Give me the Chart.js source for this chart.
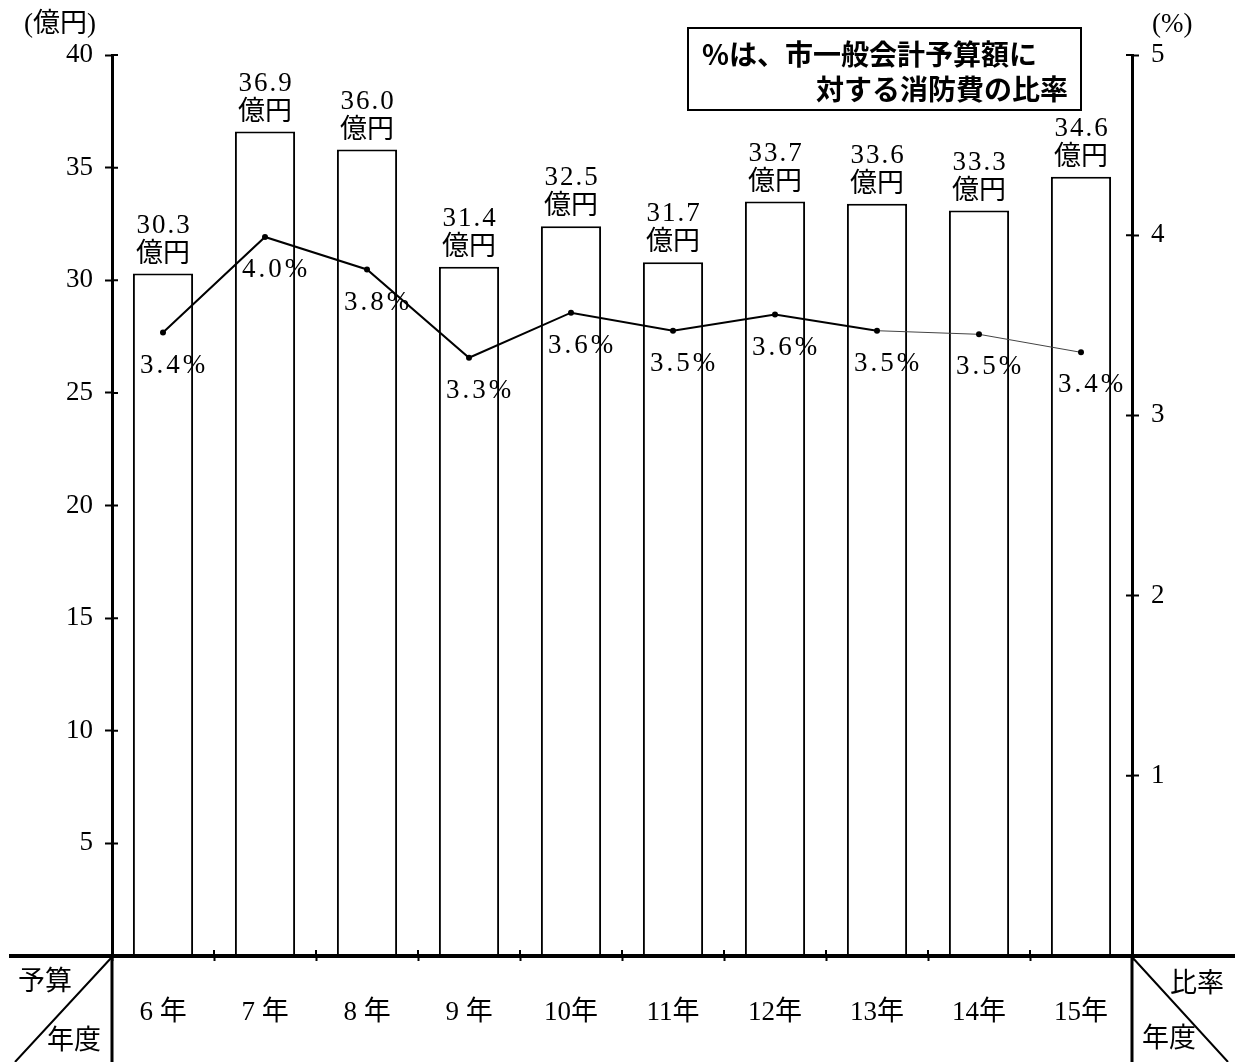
<!DOCTYPE html>
<html>
<head>
<meta charset="utf-8">
<script src="https://cdn.jsdelivr.net/npm/chart.js@4.4.0/dist/chart.umd.min.js"></script>
<style>
  html, body { margin: 0; padding: 0; background: #fff; }
  #wrap { width: 1235px; height: 1062px; }
</style>
</head>
<body>
<div id="wrap"><canvas id="fireChart" width="1235" height="1062"></canvas></div>
<script>
// data
const years = ['6 年', '7 年', '8 年', '9 年', '10年', '11年', '12年', '13年', '14年', '15年'];
const budget = [30.3, 36.6, 35.8, 30.6, 32.4, 30.8, 33.5, 33.4, 33.1, 34.6];
const budgetLabels = ['30.3', '36.9', '36.0', '31.4', '32.5', '31.7', '33.7', '33.6', '33.3', '34.6'];
const ratio = [3.46, 3.99, 3.81, 3.32, 3.57, 3.47, 3.56, 3.47, 3.45, 3.35];
const ratioLabels = ['3.4%', '4.0%', '3.8%', '3.3%', '3.6%', '3.5%', '3.6%', '3.5%', '3.5%', '3.4%'];
const leftTicks = [5, 10, 15, 20, 25, 30, 35, 40];
const rightTicks = [1, 2, 3, 4, 5];

const SERIF = '"Liberation Serif", "Noto Sans CJK JP", serif';
const GOTHIC = '"Noto Sans CJK JP", sans-serif';
const tickFont = { family: SERIF, size: 27, lineHeight: 1 };

// extra drawing: value labels, table lines below the axis, note box
const decorPlugin = {
    id: 'decor',
    afterDraw(chart) {
        const { ctx, chartArea: area, scales } = chart;
        const x = scales.x, y = scales.y, y1 = scales.y1;
        ctx.save();
        ctx.strokeStyle = '#000';
        ctx.fillStyle = '#000';

        // inner half of the tick marks
        ctx.lineWidth = 2;
        ctx.beginPath();
        leftTicks.forEach(v => {
            const py = y.getPixelForValue(v);
            ctx.moveTo(area.left, py); ctx.lineTo(area.left + 6, py);
        });
        rightTicks.forEach(v => {
            const py = y1.getPixelForValue(v);
            ctx.moveTo(area.right, py); ctx.lineTo(area.right - 6, py);
        });
        const step = x.getPixelForValue(1) - x.getPixelForValue(0);
        for (let i = 1; i < years.length; i++) {
            const px = x.getPixelForValue(i) - step / 2;
            ctx.moveTo(px, area.bottom); ctx.lineTo(px, area.bottom - 6);
        }
        ctx.stroke();

        // base line across the whole width and the table lines
        ctx.lineWidth = 4;
        ctx.beginPath();
        ctx.moveTo(9, area.bottom); ctx.lineTo(chart.width, area.bottom);
        ctx.stroke();
        ctx.lineWidth = 3;
        ctx.beginPath();
        ctx.moveTo(area.left, area.bottom); ctx.lineTo(area.left, chart.height);
        ctx.moveTo(area.right, area.bottom); ctx.lineTo(area.right, chart.height);
        ctx.stroke();
        ctx.lineWidth = 2;
        ctx.beginPath();
        ctx.moveTo(area.left, area.bottom + 1); ctx.lineTo(15, chart.height);
        ctx.moveTo(area.right, area.bottom + 1); ctx.lineTo(1228, chart.height);
        ctx.stroke();

        ctx.font = '27px ' + SERIF;
        ctx.textBaseline = 'middle';
        ctx.textAlign = 'left';
        ctx.fillText('予算', 18, 983);
        ctx.fillText('年度', 47, 1042);
        ctx.fillText('比率', 1170, 985);
        ctx.fillText('年度', 1142, 1040);
        ctx.fillText('(億円)', 24, 25);
        ctx.fillText('(%)', 1152, 25);

        // budget labels above the bars
        ctx.textAlign = 'center';
        chart.getDatasetMeta(1).data.forEach((bar, i) => {
            ctx.letterSpacing = '2px';
            ctx.fillText(budgetLabels[i], bar.x + 1, bar.y - 48);
            ctx.letterSpacing = '0px';
            ctx.fillText('億円', bar.x, bar.y - 19);
        });
        // ratio labels under the points
        ctx.letterSpacing = '3px';
        chart.getDatasetMeta(0).data.forEach((pt, i) => {
            ctx.fillText(ratioLabels[i], pt.x + 11, pt.y + 33);
        });
        ctx.letterSpacing = '0px';

        // note box
        ctx.lineWidth = 2;
        ctx.strokeRect(688, 28, 393, 82);
        ctx.font = 'bold 28px ' + GOTHIC;
        ctx.textAlign = 'left';
        ctx.fillText('%は、市一般会計予算額に', 702, 54);
        ctx.textAlign = 'right';
        ctx.fillText('対する消防費の比率', 1068, 89);

        ctx.restore();
    }
};

new Chart(document.getElementById('fireChart'), {
    data: {
        labels: years,
        datasets: [{
            type: 'line',
            label: '比率',
            data: ratio,
            yAxisID: 'y1',
            order: 0,
            borderColor: '#000',
            borderWidth: 2,
            tension: 0,
            pointRadius: 3,
            pointBackgroundColor: '#000',
            pointBorderWidth: 0,
            segment: {
                borderWidth: c => c.p0DataIndex >= 7 ? 1 : 2,
                borderColor: c => c.p0DataIndex >= 7 ? '#444' : '#000'
            }
        }, {
            type: 'bar',
            label: '予算',
            data: budget,
            yAxisID: 'y',
            order: 1,
            backgroundColor: '#fff',
            borderColor: '#000',
            borderWidth: 2,
            barPercentage: 0.59,
            categoryPercentage: 1
        }]
    },
    options: {
        responsive: false,
        animation: false,
        layout: { padding: { top: 55, left: 0, right: 0, bottom: 0 } },
        plugins: {
            legend: { display: false },
            tooltip: { enabled: false }
        },
        scales: {
            x: {
                offset: true,
                grid: { offset: true, drawOnChartArea: false, tickLength: 5, tickWidth: 2, tickColor: '#000' },
                border: { color: '#000', width: 4 },
                ticks: { font: tickFont, color: '#000', padding: 38, maxRotation: 0, autoSkip: false },
                afterFit: s => { s.height = 106; }
            },
            y: {
                position: 'left',
                min: 0,
                max: 40,
                grid: { drawOnChartArea: false, tickLength: 7, tickWidth: 2, tickColor: '#000' },
                border: { color: '#000', width: 3 },
                ticks: { stepSize: 5, font: tickFont, color: '#000', padding: 12, callback: v => v === 0 ? '' : v },
                afterFit: s => { s.width = 112; }
            },
            y1: {
                position: 'right',
                min: 0,
                max: 5,
                grid: { drawOnChartArea: false, tickLength: 7, tickWidth: 2, tickColor: '#000' },
                border: { color: '#000', width: 3 },
                ticks: { stepSize: 1, font: tickFont, color: '#000', padding: 12, callback: v => v === 0 ? '' : v },
                afterFit: s => { s.width = 103; }
            }
        }
    },
    plugins: [decorPlugin]
});
</script>
</body>
</html>
